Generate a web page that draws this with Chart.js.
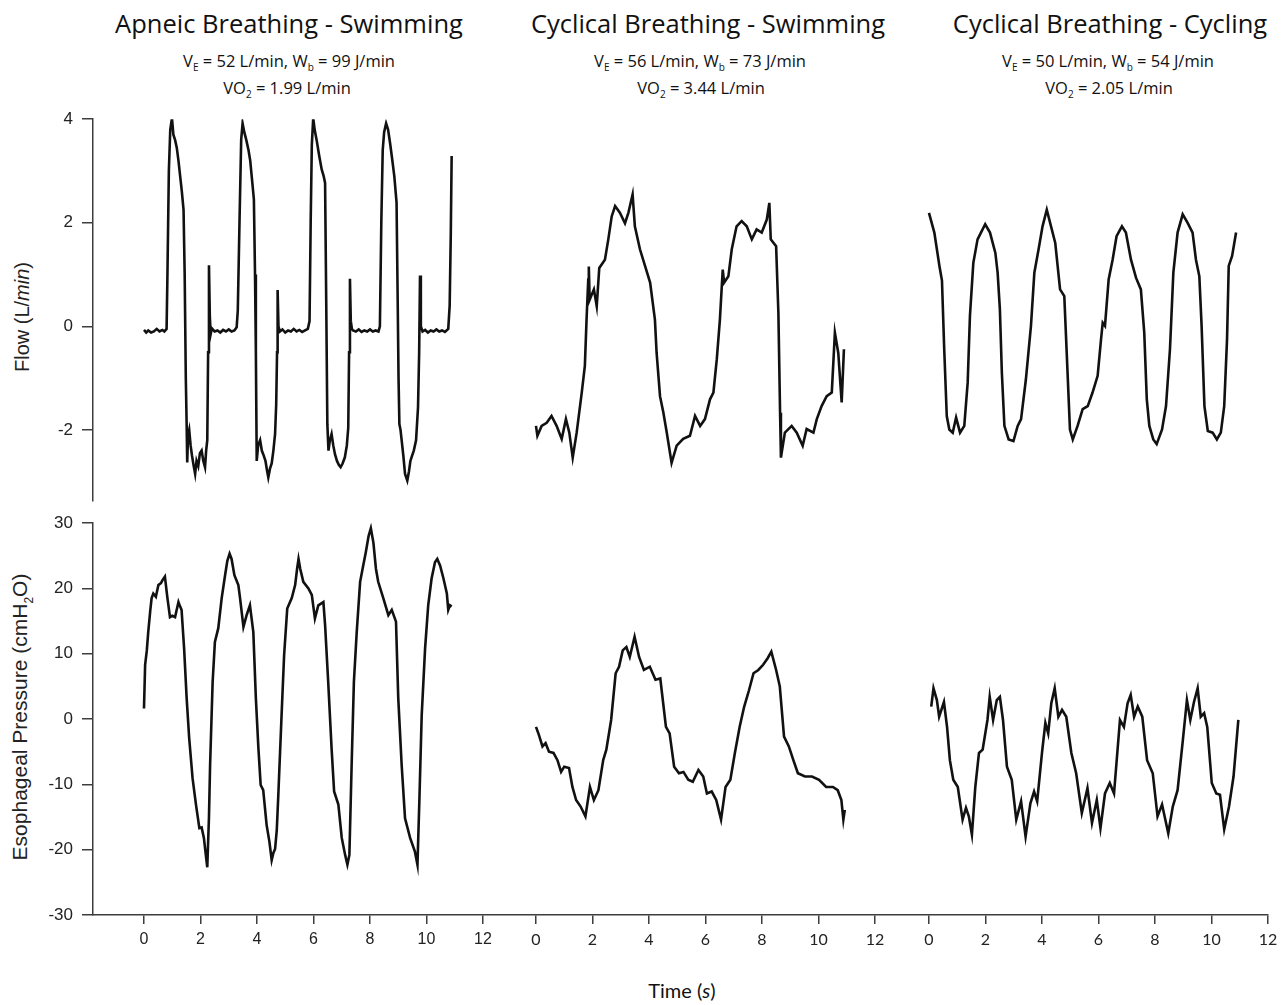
<!DOCTYPE html>
<html>
<head>
<meta charset="utf-8">
<script src="https://cdn.jsdelivr.net/npm/chart.js@4.4.1/dist/chart.umd.min.js"></script>
<style>
  body { margin: 0; background: #fff; }
  #page { position: relative; width: 1288px; height: 1005px; overflow: hidden; background: #fff; }
  #page canvas { position: absolute; }
  .title { position: absolute; transform: translateX(-50%); white-space: nowrap; font-family: "Open Sans", Lato, sans-serif; color: #111; }
  .head { font-size: 25.5px; }
  .sub { font-size: 16.5px; }
  .sub sub { font-size: 10px; }
  .ylab { position: absolute; white-space: nowrap; font-family: "Liberation Sans", Arial, sans-serif; font-size: 20px; color: #222;
          transform: translate(-50%, -50%) rotate(-90deg); }
  .ylab sub { font-size: 12px; }
</style>
</head>
<body>
<div id="page">
  <div class="title head" style="left:289px;top:6px">Apneic Breathing - Swimming</div>
  <div class="title sub" style="left:289px;top:49px">V<sub>E</sub> = 52 L/min, W<sub>b</sub> = 99 J/min</div>
  <div class="title sub" style="left:287px;top:76px">VO<sub>2</sub> = 1.99 L/min</div>

  <div class="title head" style="left:708px;top:6px">Cyclical Breathing - Swimming</div>
  <div class="title sub" style="left:700px;top:49px">V<sub>E</sub> = 56 L/min, W<sub>b</sub> = 73 J/min</div>
  <div class="title sub" style="left:701px;top:76px">VO<sub>2</sub> = 3.44 L/min</div>

  <div class="title head" style="left:1110px;top:6px">Cyclical Breathing - Cycling</div>
  <div class="title sub" style="left:1108px;top:49px">V<sub>E</sub> = 50 L/min, W<sub>b</sub> = 54 J/min</div>
  <div class="title sub" style="left:1109px;top:76px">VO<sub>2</sub> = 2.05 L/min</div>

  <div class="ylab" style="left:22px;top:317px">Flow (L/<i>min</i>)</div>
  <div class="ylab" style="left:22px;top:717px;font-size:21px">Esophageal Pressure (cmH<sub>2</sub>O)</div>
  <div class="title" style="left:682px;top:978px;font-size:20px;font-family:Lato,sans-serif">Time (<i>s</i>)</div>

  <canvas id="flow1" width="509" height="420" style="left:0;top:100px"></canvas>
  <canvas id="flow2" width="392" height="420" style="left:509px;top:100px"></canvas>
  <canvas id="flow3" width="387" height="420" style="left:901px;top:100px"></canvas>
  <canvas id="pes1" width="509" height="475" style="left:0;top:500px"></canvas>
  <canvas id="pes2" width="392" height="475" style="left:509px;top:500px"></canvas>
  <canvas id="pes3" width="387" height="475" style="left:901px;top:500px"></canvas>
</div>
<script>
// tick labels
const timeTicks = [0, 2, 4, 6, 8, 10, 12];
const flowTicks = [-2, 0, 2, 4];
const pesTicks = [-30, -20, -10, 0, 10, 20, 30];

// Apneic breathing - swimming, flow (L/min)
const apneicFlowT = [0,0.08,0.15,0.25,0.35,0.45,0.55,0.65,0.72,0.8,0.83,0.88,0.93,0.99,1.04,1.1,1.16,1.22,1.28,1.34,1.4,1.44,1.48,1.51,1.53,1.56,1.6,1.65,1.7,1.76,1.81,1.86,1.92,1.98,2.04,2.1,2.16,2.2,2.24,2.27,2.3,2.33,2.36,2.4,2.5,2.6,2.7,2.8,2.9,3,3.1,3.2,3.28,3.32,3.38,3.44,3.49,3.55,3.62,3.7,3.76,3.83,3.89,3.93,3.96,3.99,4.04,4.11,4.17,4.22,4.3,4.36,4.4,4.46,4.52,4.58,4.64,4.68,4.71,4.73,4.76,4.81,4.9,5,5.1,5.2,5.3,5.4,5.5,5.6,5.7,5.8,5.86,5.9,5.94,5.99,6.04,6.11,6.2,6.29,6.36,6.41,6.45,6.49,6.53,6.58,6.64,6.7,6.76,6.83,6.9,6.96,7.03,7.11,7.18,7.23,7.26,7.29,7.32,7.36,7.4,7.5,7.6,7.7,7.8,7.9,8,8.1,8.2,8.3,8.35,8.4,8.45,8.5,8.57,8.64,8.71,8.78,8.86,8.94,8.98,9.01,9.04,9.08,9.12,9.18,9.24,9.32,9.38,9.43,9.47,9.55,9.63,9.7,9.74,9.77,9.8,9.86,9.95,10.05,10.15,10.25,10.35,10.45,10.55,10.65,10.77,10.82,10.86,10.89];
const apneicFlowV = [-0.07,-0.12,-0.08,-0.12,-0.1,-0.05,-0.1,-0.07,-0.1,-0.05,1.0,3.0,3.8,4.02,3.7,3.6,3.45,3.2,2.9,2.6,2.25,1.0,-1.0,-1.9,-2.63,-2.1,-2.0,-2.3,-2.5,-2.7,-2.85,-2.6,-2.7,-2.45,-2.4,-2.6,-2.72,-2.4,-2.2,-0.5,1.18,0.2,-0.15,-0.04,-0.1,-0.08,-0.12,-0.07,-0.1,-0.06,-0.1,-0.08,-0.02,0.3,2.0,3.6,3.92,3.75,3.6,3.4,3.2,2.8,2.45,1.0,-0.5,-2.6,-2.3,-2.2,-2.4,-2.47,-2.6,-2.8,-2.92,-2.75,-2.65,-2.4,-2.08,-1.5,-0.5,0.7,0.0,-0.1,-0.06,-0.12,-0.08,-0.1,-0.05,-0.1,-0.07,-0.11,-0.08,-0.05,0.1,2.0,3.5,4.02,3.8,3.6,3.3,3.03,2.9,2.77,0.5,-1.89,-2.4,-2.2,-2.08,-2.3,-2.47,-2.6,-2.68,-2.72,-2.65,-2.53,-2.3,-1.96,-0.5,0.92,0.1,-0.05,-0.08,-0.1,-0.06,-0.11,-0.08,-0.1,-0.06,-0.1,-0.08,-0.1,0.0,2.0,3.4,3.75,3.92,3.8,3.54,3.25,2.9,2.39,0.5,-1.0,-1.89,-2.0,-2.2,-2.5,-2.85,-2.98,-2.8,-2.6,-2.53,-2.4,-2.2,-1.56,-0.5,0.98,0.0,-0.1,-0.07,-0.12,-0.08,-0.1,-0.06,-0.1,-0.08,-0.11,-0.05,0.4,1.8,3.29];

// Cyclical breathing - swimming, flow
const swimFlowT = [0,0.05,0.2,0.38,0.55,0.73,0.91,1.06,1.18,1.3,1.44,1.62,1.73,1.79,1.85,1.87,1.9,2.05,2.15,2.24,2.44,2.56,2.68,2.8,2.97,3.15,3.27,3.42,3.5,3.68,3.86,4.04,4.21,4.27,4.39,4.51,4.63,4.8,4.98,5.21,5.45,5.63,5.81,5.98,6.16,6.28,6.4,6.51,6.61,6.66,6.81,6.93,7.1,7.28,7.46,7.64,7.81,7.99,8.17,8.26,8.31,8.5,8.58,8.64,8.67,8.81,9.05,9.23,9.44,9.58,9.82,9.94,10.11,10.29,10.47,10.58,10.7,10.82,10.9];
const swimFlowV = [-1.89,-2.08,-1.89,-1.83,-1.7,-1.89,-2.14,-1.76,-2.02,-2.5,-2.02,-1.25,-0.74,0.15,0.92,1.17,0.53,0.73,0.41,1.14,1.3,1.69,2.13,2.33,2.2,2.0,2.2,2.55,1.94,1.5,1.18,0.86,0.15,-0.49,-1.32,-1.64,-2.02,-2.6,-2.27,-2.14,-2.08,-1.7,-1.89,-1.76,-1.38,-1.25,-0.61,0.15,1.11,0.86,0.98,1.5,1.94,2.04,1.94,1.69,1.88,1.82,2.07,2.39,1.69,1.56,0.28,-1.64,-2.5,-2.02,-1.89,-2.02,-2.27,-1.95,-2.02,-1.76,-1.51,-1.32,-1.25,-0.1,-0.49,-1.44,-0.42];

// Cyclical breathing - cycling, flow
const cycleFlowT = [0,0.19,0.37,0.46,0.54,0.63,0.72,0.84,0.96,1.1,1.25,1.37,1.45,1.57,1.72,1.84,1.99,2.16,2.35,2.43,2.51,2.58,2.67,2.82,2.99,3.14,3.26,3.43,3.61,3.73,3.88,4.02,4.17,4.32,4.47,4.64,4.79,4.91,4.99,5.09,5.26,5.44,5.62,5.79,5.97,6.09,6.15,6.23,6.36,6.5,6.64,6.83,6.97,7.15,7.33,7.5,7.62,7.71,7.8,7.94,8.06,8.25,8.39,8.53,8.65,8.8,8.98,9.16,9.33,9.45,9.57,9.65,9.75,9.87,10.04,10.19,10.33,10.45,10.55,10.61,10.73,10.87];
const cycleFlowV = [2.2,1.82,1.18,0.9,-0.42,-1.7,-1.96,-2.02,-1.73,-2.02,-1.89,-1.06,0.22,1.24,1.69,1.82,1.98,1.82,1.43,1.05,0.35,-0.87,-1.89,-2.15,-2.18,-1.89,-1.76,-1.0,0.03,1.05,1.5,1.94,2.26,1.94,1.62,0.73,0.6,-0.93,-1.96,-2.15,-1.89,-1.57,-1.51,-1.25,-0.93,-0.23,0.09,0.03,0.92,1.3,1.75,1.94,1.82,1.3,0.95,0.73,-0.1,-1.38,-1.89,-2.15,-2.24,-1.96,-1.51,-0.42,1.05,1.82,2.17,2.0,1.82,1.3,0.98,0.03,-1.51,-1.99,-2.02,-2.15,-2.02,-1.51,-0.23,1.18,1.37,1.82];

// Apneic breathing - swimming, esophageal pressure (cmH2O)
const apneicPesT = [0,0.04,0.1,0.15,0.22,0.27,0.33,0.42,0.51,0.6,0.66,0.74,0.83,0.92,1,1.1,1.22,1.28,1.33,1.42,1.51,1.6,1.72,1.84,1.96,2.04,2.12,2.18,2.24,2.3,2.34,2.43,2.51,2.63,2.75,2.87,2.95,3.03,3.1,3.2,3.34,3.4,3.52,3.64,3.75,3.87,3.96,4.05,4.13,4.22,4.34,4.44,4.52,4.58,4.64,4.7,4.75,4.87,4.96,5.07,5.23,5.35,5.42,5.47,5.53,5.64,5.82,5.94,6.05,6.17,6.35,6.41,6.52,6.64,6.73,6.88,7,7.12,7.2,7.27,7.35,7.43,7.53,7.65,7.76,7.85,7.95,8.03,8.12,8.21,8.29,8.47,8.65,8.77,8.92,9,9.12,9.24,9.42,9.59,9.68,9.75,9.83,9.95,10.06,10.18,10.3,10.38,10.48,10.6,10.72,10.77,10.83,10.89];
const apneicPesV = [1.6,8.3,10.5,13.3,16.5,18.5,19.2,18.7,20.5,20.8,21.3,21.8,18.5,15.6,15.8,15.6,17.9,17.2,16.7,10.8,3.2,-2.95,-9.1,-13.1,-16.7,-16.6,-18.2,-20.5,-22.7,-15,-7,5.7,11.8,13.9,18.5,22,24.2,25.3,24.5,22,20.5,18.5,14.1,16,17.4,13.3,3.2,-4.5,-10.1,-10.9,-16.2,-18.8,-21.6,-20.5,-19.9,-17,-12.1,0.6,9.8,16.9,18.5,20.5,23,24.5,23,21,20,19,15.4,17.4,17.9,14.4,5.7,-4.5,-11.1,-13.1,-18.2,-20.8,-22.3,-20.8,-7,5.7,13.3,21,23.5,25.5,28,29.2,27,23,21,18.5,15.9,16.7,14.9,3.2,-7,-15.2,-18.2,-20.3,-22.3,-12.1,0.6,10.8,17.4,21.5,24,24.5,23.5,21.5,19.2,16.7,17.4,17.2];

// Cyclical breathing - swimming, esophageal pressure
const swimPesT = [0,0.1,0.23,0.34,0.46,0.62,0.76,0.89,1,1.17,1.29,1.42,1.58,1.75,1.91,2.05,2.21,2.38,2.49,2.66,2.82,2.94,3.07,3.2,3.32,3.49,3.65,3.82,4.03,4.23,4.4,4.6,4.73,4.89,5.06,5.22,5.39,5.55,5.75,5.92,6.05,6.22,6.38,6.55,6.71,6.88,7.04,7.21,7.37,7.54,7.7,7.87,8.04,8.2,8.33,8.5,8.63,8.78,8.95,9.11,9.27,9.52,9.77,10.02,10.27,10.51,10.68,10.81,10.88,10.93];
const swimPesV = [-1.2,-2.4,-4.2,-3.7,-5,-5.2,-6.3,-8.1,-7.3,-7.5,-10.4,-12.4,-13.4,-14.9,-10.4,-12.4,-10.9,-6.3,-4.7,-0.15,7,8,10.5,11,9.5,12.6,9.5,7.5,8,6,6.2,-1.2,-2.2,-7.3,-8.3,-8.1,-9.3,-9.6,-7.8,-8.8,-11.4,-11.1,-12.4,-15.4,-10.4,-9.3,-5.2,-1.2,1.9,4.4,7,7.5,8.3,9.3,10.3,7.5,5,-2.7,-4.2,-6.3,-8.3,-8.8,-8.8,-9.3,-10.4,-10.4,-10.9,-12.4,-15.4,-13.9];

// Cyclical breathing - cycling, esophageal pressure
const cyclePesT = [0.08,0.16,0.28,0.36,0.53,0.64,0.74,0.86,1.02,1.19,1.31,1.41,1.52,1.64,1.77,1.9,2.07,2.15,2.27,2.4,2.51,2.62,2.76,2.93,3.09,3.26,3.42,3.59,3.72,3.83,4,4.12,4.22,4.33,4.45,4.58,4.71,4.86,5.04,5.21,5.41,5.61,5.77,5.94,6.07,6.23,6.4,6.55,6.76,6.9,7.03,7.14,7.26,7.39,7.55,7.72,7.92,8.09,8.25,8.47,8.63,8.8,8.98,9.13,9.25,9.38,9.51,9.62,9.74,9.85,10.01,10.17,10.3,10.45,10.62,10.78,10.95];
const cyclePesV = [1.9,4.7,2.9,0.35,2.6,-1.2,-6.3,-9.3,-10.4,-15.4,-13.6,-14.9,-17.7,-10.4,-5.2,-4.7,-0.15,3.4,-0.15,2.9,3.4,-0.15,-7.3,-9.3,-15.4,-12.6,-18,-12.9,-11.1,-12.6,-5.2,-0.6,-2.2,2.4,4.7,0.35,1.4,0.35,-5.2,-8.3,-14.4,-10.6,-15.9,-12.4,-16.7,-11.4,-9.8,-11.4,-0.15,-1.2,2.4,3.7,0.35,1.9,0.35,-6.3,-8.3,-14.9,-13.1,-17.5,-13.4,-10.9,-3.5,2.9,-0.15,2.6,4.7,0.35,0.9,-1.2,-9.8,-11.4,-11.6,-16.9,-13.4,-8.8,-0.15];

const axisColor = '#3d3d3d';
const traceColor = '#111';

function points(ts, vs) {
  return ts.map((t, i) => ({ x: t, y: vs[i] }));
}

function makePanel(id, ts, vs, opts) {
  const tickFont = { family: opts.font || 'Liberation Sans', size: 16 };
  new Chart(document.getElementById(id), {
    type: 'line',
    data: {
      datasets: [{
        data: points(ts, vs),
        borderColor: traceColor,
        borderWidth: 2.6,
        pointRadius: 0,
        tension: 0,
        fill: false
      }]
    },
    options: {
      responsive: false,
      animation: false,
      events: [],
      layout: { padding: opts.padding },
      plugins: { legend: { display: false }, tooltip: { enabled: false } },
      scales: {
        x: {
          type: 'linear',
          min: opts.xMin,
          max: opts.xMax,
          display: !!opts.showX,
          afterFit: s => { if (opts.showX) s.height = 60; },
          afterBuildTicks: s => { s.ticks = timeTicks.map(v => ({ value: v })); },
          grid: { drawOnChartArea: false, drawTicks: true, tickLength: 9, color: axisColor, lineWidth: 1.5 },
          border: { display: true, color: axisColor, width: 1.5 },
          ticks: { padding: 6, maxRotation: 0, autoSkip: false, font: tickFont, color: '#222' }
        },
        y: {
          min: opts.yMin,
          max: opts.yMax,
          display: !!opts.yTicks,
          afterFit: s => { if (opts.yTicks) s.width = 93; },
          afterBuildTicks: s => { if (opts.yTicks) s.ticks = opts.yTicks.map(v => ({ value: v })); },
          grid: { drawOnChartArea: false, drawTicks: true, tickLength: 11, color: axisColor, lineWidth: 1.5 },
          border: { display: true, color: axisColor, width: 1.5 },
          ticks: { padding: 9, font: { family: 'Liberation Sans', size: 17 }, color: '#222' }
        }
      }
    }
  });
}

const flowPad = { top: 19, bottom: 17, left: 0, right: 0 };
const pesPad = { top: 23, bottom: 0, left: 0, right: 0 };

makePanel('flow1', apneicFlowT, apneicFlowV, { xMin: -1.805, xMax: 12.92, yMin: -3.37, yMax: 4, yTicks: flowTicks, padding: flowPad });
makePanel('flow2', swimFlowT, swimFlowV, { xMin: -0.955, xMax: 12.92, yMin: -3.37, yMax: 4, padding: flowPad });
makePanel('flow3', cycleFlowT, cycleFlowV, { xMin: -0.99, xMax: 12, yMin: -3.37, yMax: 4, padding: { top: 19, bottom: 17, left: 0, right: 20 } });

makePanel('pes1', apneicPesT, apneicPesV, { xMin: -1.805, xMax: 12.92, yMin: -30, yMax: 30, yTicks: pesTicks, showX: true, padding: pesPad });
makePanel('pes2', swimPesT, swimPesV, { xMin: -0.955, xMax: 12.92, yMin: -30, yMax: 30, showX: true, font: 'Lato', padding: pesPad });
makePanel('pes3', cyclePesT, cyclePesV, { xMin: -0.99, xMax: 12, yMin: -30, yMax: 30, showX: true, font: 'Lato', padding: { top: 23, bottom: 0, left: 0, right: 20 } });
</script>
</body>
</html>
